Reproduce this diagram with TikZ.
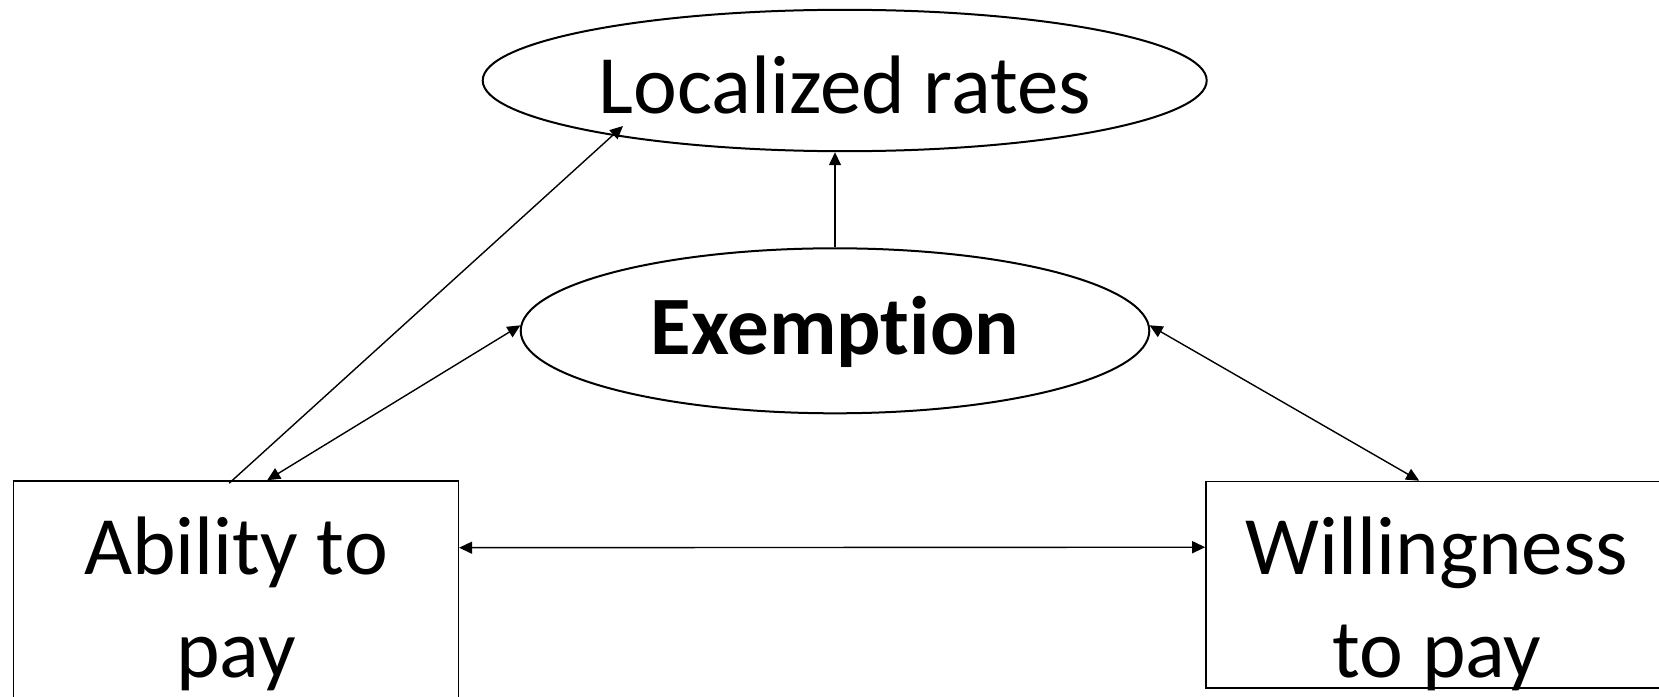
\documentclass[tikz,border=0pt]{standalone}
\usepackage{fontspec}
\setmainfont{Carlito}[Ligatures=NoCommon]
\usetikzlibrary{shapes.geometric,arrows.meta,calc}
\begin{document}
\begin{tikzpicture}[x=0.5pt,y=-0.5pt,
  ell/.style={draw,ellipse,line width=1pt,inner sep=0pt,font=\fontsize{41.5}{51.5}\selectfont},
  boxn/.style={draw,rectangle,line width=0.8pt,inner sep=0pt},
  txt/.style={align=center,inner sep=0pt,font=\fontsize{41.5}{51.5}\selectfont},
  conn/.style={line width=0.7pt,-{Triangle[length=6.5pt,width=6pt]}},
  conn2/.style={line width=0.7pt,{Triangle[length=6.5pt,width=6pt]}-{Triangle[length=6.5pt,width=6pt]}}]
\useasboundingbox (0,0) rectangle (1659,696);
\clip (0,0) rectangle (1659,696);
\node[ell,minimum width=362pt,minimum height=70.7pt,text height=32.8pt,text depth=0pt] (loc) at (844.7,80.5) {Localized rates};
\node[ell,minimum width=314.3pt,minimum height=82.5pt,text height=31pt,text depth=7.8pt] (ex) at (835,330.8) {\bfseries Exemption};
\node[boxn,minimum width=222.5pt,minimum height=122.5pt] (abil) at (235.8,603.5) {};
\node[txt] (abiltxt) at (236,603.5) {Ability to\\pay};
\node[boxn,minimum width=231pt,minimum height=103.25pt] (wil) at (1437,584.75) {};
\node[txt] (wiltxt) at (1437,603.5) {Willingness\\to pay};
\draw[conn] ($(abil.north west)+(216.7,3)$) -- ($(loc.center)+(-221.7,45.5)$);
\draw[conn] (ex.north) -- (ex.north |- loc.south);
\draw[conn2] ($(abil.north west)+(254.7,0)$) -- (ex.179);
\draw[conn2] ($(wil.north west)+(214,0)$) -- (ex.1);
\draw[conn2] ($(abil.north east)+(0,67.5)$) -- ($(wil.north west)+(0,66.5)$);
\end{tikzpicture}
\end{document}
